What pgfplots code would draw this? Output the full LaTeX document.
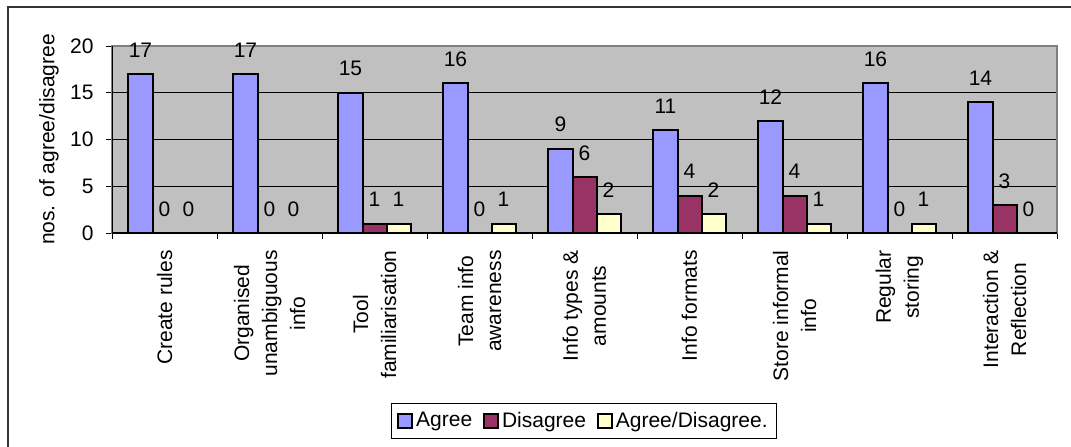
\documentclass[border=0pt]{standalone}
\usepackage{fontspec}
\setmainfont{Liberation Sans}
\usepackage{pgfplots}
\pgfplotsset{compat=1.18}
\definecolor{agree}{HTML}{9999FF}
\definecolor{disagree}{HTML}{993366}
\definecolor{ad}{HTML}{FFFFCC}
\definecolor{plotbg}{HTML}{C0C0C0}
\newcommand{\fs}{\fontsize{10.5}{14}\selectfont}
\begin{document}
\begin{tikzpicture}
\useasboundingbox (-56pt,-106.5pt) rectangle (479.5pt,116.5pt);
\draw[line width=1pt, black!80] (-52pt,-107pt) -- (-52pt,113pt) -- (480pt,113pt);
\begin{axis}[
  at={(0,0)}, anchor=south west, scale only axis,
  width=472.5pt, height=93.5pt,
  ybar=0pt, bar width=12pt,
  xmin=-0.5, xmax=8.5, ymin=0, ymax=20,
  ytick={0,5,...,20},
  xtick={0,...,8},
  xticklabels={{Create rules},{Organised\\unambiguous\\info},{Tool\\familiarisation},{Team info\\awareness},{Info types \&\\amounts},{Info formats},{Store informal\\info},{Regular\\storing},{Interaction \&\\Reflection}},
  minor xtick={-0.5,0.5,...,8.5},
  major x tick style={draw=none},
  minor x tick style={black, line width=0.5pt},
  minor tick length=3pt,
  major tick length=3pt,
  y tick style={black, line width=0.5pt},
  tick align=outside,
  tick pos=left,
  ymajorgrids, major grid style={black, line width=0.5pt},
  axis background/.style={fill=plotbg},
  axis line style={gray, line width=1pt},
  /pgf/number format/assume math mode=true,
  tick label style={font=\fs},
  xticklabel style={rotate=90, anchor=east, align=center, inner sep=0pt, xshift=-5.5pt},
  yticklabel style={inner sep=0pt, xshift=-6pt},
  ylabel={nos. of agree/disagree},
  ylabel style={font=\fs, at={(axis description cs:-0.0667,0.5)}, anchor=center},
  nodes near coords,
  every node near coord/.append style={font=\fs, yshift=4.5pt, black},
  legend style={at={(axis description cs:0.4995,-1.0053)}, anchor=center, legend columns=3, draw=black, line width=0.5pt, font=\fs,
    nodes={inner xsep=1.5pt},
    /tikz/every even column/.append style={column sep=4pt}},
  legend image code/.code={\draw[#1, line width=0.9pt, draw=black] (0pt,-3.5pt) rectangle (7pt,3.5pt);},
]
\addplot[fill=agree, draw=black, line width=1pt] coordinates {(0,17) (1,17) (2,15) (3,16) (4,9) (5,11) (6,12) (7,16) (8,14)};
\addplot[fill=disagree, draw=black, line width=1pt] coordinates {(0,0) (1,0) (2,1) (3,0) (4,6) (5,4) (6,4) (7,0) (8,3)};
\addplot[fill=ad, draw=black, line width=1pt] coordinates {(0,0) (1,0) (2,1) (3,1) (4,2) (5,2) (6,1) (7,1) (8,0)};
\legend{Agree,Disagree,Agree/Disagree.}
\draw[black, line width=0.8pt] (rel axis cs:0,1) -- (rel axis cs:0,0) -- (rel axis cs:1,0);
\end{axis}
\end{tikzpicture}
\end{document}
